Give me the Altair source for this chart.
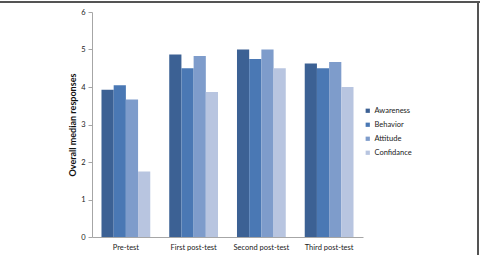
import altair as alt
import pandas as pd

groups = ["Pre-test", "First post-test", "Second post-test", "Third post-test"]
series = ["Awareness", "Behavior", "Attitude", "Confidance"]
awareness = [3.93, 4.87, 5.0, 4.63]
behavior = [4.05, 4.5, 4.75, 4.5]
attitude = [3.67, 4.83, 5.0, 4.67]
confidance = [1.75, 3.87, 4.5, 4.0]
colors = ["#3C6194", "#4A78B4", "#7E9CCB", "#B8C5E0"]

rows = []
for name, vals in zip(series, [awareness, behavior, attitude, confidance]):
    for g, v in zip(groups, vals):
        rows.append({"group": g, "series": name, "value": v})
df = pd.DataFrame(rows)

FONT = "Lato"

bars = alt.Chart(df).mark_bar().encode(
    x=alt.X("group:N", sort=groups, title=None,
            scale=alt.Scale(paddingInner=0.28, paddingOuter=0.14),
            axis=alt.Axis(labelAngle=0, ticks=False, domainColor="#a6a6a6",
                          labelFont=FONT, labelFontSize=7.5, labelColor="#222",
                          labelPadding=6, labelOverlap=False)),
    xOffset=alt.XOffset("series:N", sort=series),
    y=alt.Y("value:Q", title="Overall median responses",
            scale=alt.Scale(domain=[0, 6], nice=False),
            axis=alt.Axis(values=[0, 1, 2, 3, 4, 5, 6], grid=False, labelOverlap=False,
                          domainColor="#a6a6a6", tickColor="#a6a6a6", tickSize=4,
                          labelFont=FONT, labelFontSize=7.5, labelColor="#222",
                          titleFont=FONT, titleFontSize=9, titleFontWeight="bold",
                          titleColor="#111", titlePadding=3, labelPadding=3)),
    color=alt.Color("series:N", sort=series,
                    scale=alt.Scale(domain=series, range=colors),
                    legend=alt.Legend(title=None, orient="none", legendX=272, legendY=95,
                                      symbolType="square", symbolSize=18,
                                      labelFont=FONT, labelFontSize=7.5, labelColor="#222",
                                      rowPadding=5, labelOffset=3, symbolStrokeWidth=0)),
)

frame_top = alt.Chart(df).mark_rule(color="#555", strokeWidth=1.5).encode(
    x=alt.value(-92), x2=alt.value(388), y=alt.value(-10)
)
frame_right = alt.Chart(df).mark_rule(color="#555", strokeWidth=1.5).encode(
    x=alt.value(386), y=alt.value(-10), y2=alt.value(243)
)

chart = alt.layer(bars, frame_top, frame_right).properties(
    width=271, height=225,
    autosize=alt.AutoSizeParams(type="none"),
    padding={"left": 92, "top": 12, "right": 117, "bottom": 18},
).configure_view(stroke=None)

chart.save("out.html", embed_options={"renderer": "svg", "actions": False})
